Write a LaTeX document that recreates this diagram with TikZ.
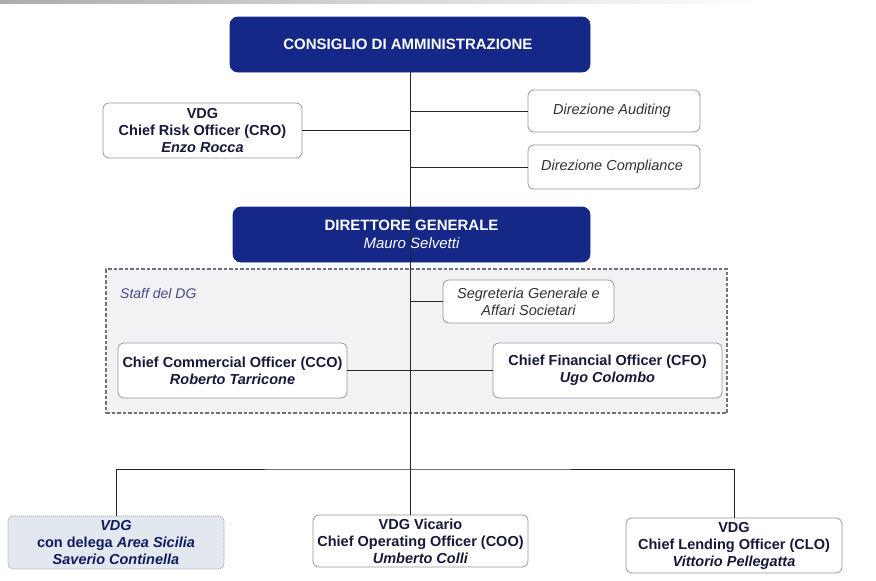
\documentclass[tikz,border=0pt]{standalone}
\usepackage{fontspec}
\setmainfont{Liberation Sans}

\definecolor{bdgNavy}{RGB}{22,40,135}
\definecolor{bdgText}{RGB}{24,24,58}
\definecolor{bdgBorder}{RGB}{150,150,160}
\definecolor{bdgStaff}{RGB}{242,242,245}
\definecolor{bdgDash}{RGB}{110,114,130}
\definecolor{bdgSicily}{RGB}{226,231,240}
\definecolor{bdgLabel}{RGB}{72,72,140}

\begin{document}
\begin{tikzpicture} [
		x = 1pt,
		y = -1pt,
		node/.style = {
			rectangle,
			rounded corners = 6pt,
			draw = bdgBorder,
			fill = white,
			line width = 0.8pt,
			align = center,
			inner sep = 0pt,
			text = bdgText,
			font = \fontsize{14.5}{17}\selectfont\bfseries,
		},
		head/.style = {
			node,
			rounded corners = 8pt,
			draw = bdgNavy,
			fill = bdgNavy,
			text = white,
			font = \fontsize{15}{18}\selectfont\bfseries,
		},
		office/.style = {
			node,
			text = black!80,
			font = \fontsize{14.5}{17}\selectfont\itshape,
		},
		area/.style = {
			node,
			fill = bdgSicily,
			dash pattern = on 1pt off 1pt,
			text = bdgNavy!70!black,
		},
		staff/.style = {
			rectangle,
			draw = bdgDash,
			fill = bdgStaff,
			line width = 2pt,
			dash pattern = on 3.5pt off 2pt,
		},
		staff-caption/.style = {
			anchor = west,
			inner sep = 0pt,
			text = bdgLabel,
			font = \fontsize{14}{16}\selectfont\itshape,
		},
		line/.style = {
			draw,
			line width = 1pt,
			black!85,
		},
	]

	\useasboundingbox (0,0) rectangle (876,581);
	\shade[left color = gray!65, right color = white] (0,0) rectangle (760,3);

	% staff area of the general manager
	\node[staff, minimum width = 621pt, minimum height = 144pt] (staffDG) at (416.5, 341) {};
	\node[staff-caption] (staffCaption) at (120, 293) {Staff del DG};

	% board and its direct reports
	\node[head, minimum width = 360pt, minimum height = 55pt] (board) at (410, 44.5) {
		CONSIGLIO DI AMMINISTRAZIONE
	};
	\node[node, minimum width = 199pt, minimum height = 55pt] (cro) at (202.5, 130.5) {
		VDG\\Chief Risk Officer (CRO)\\\textit{Enzo Rocca}
	};
	\node[office, minimum width = 172pt, minimum height = 42pt] (auditing) at (614, 111) {
		Direzione Auditing
	};
	\node[office, minimum width = 172pt, minimum height = 44pt] (compliance) at (614, 167) {
		Direzione Compliance
	};

	% general manager and staff
	\node[head, minimum width = 357pt, minimum height = 55pt] (dg) at (411.5, 234.5) {
		DIRETTORE GENERALE\\{\mdseries\itshape Mauro Selvetti}
	};
	\node[office, minimum width = 171pt, minimum height = 43pt] (secretariat) at (528.5, 301.5) {
		Segreteria Generale e\\Affari Societari
	};
	\node[node, minimum width = 229pt, minimum height = 55pt] (cco) at (232.5, 370.5) {
		Chief Commercial Officer (CCO)\\\textit{Roberto Tarricone}
	};
	\node[node, minimum width = 229pt, minimum height = 55pt] (cfo) at (607.5, 370.5) {
		Chief Financial Officer (CFO)\\\textit{Ugo Colombo}
	};

	% deputy general managers
	\node[area, minimum width = 216pt, minimum height = 53pt] (sicily) at (116, 542.5) {
		\textit{VDG}\\con delega \textit{Area Sicilia}\\\textit{Saverio Continella}
	};
	\node[node, minimum width = 215pt, minimum height = 52pt] (coo) at (420.5, 541) {
		VDG Vicario\\Chief Operating Officer (COO)\\\textit{Umberto Colli}
	};
	\node[node, minimum width = 216pt, minimum height = 55pt] (clo) at (734, 545.5) {
		VDG\\Chief Lending Officer (CLO)\\\textit{Vittorio Pellegatta}
	};

	\coordinate (fork) at (410, 469);

	\begin{scope} [
		every path/.style = line
		]
		\path (board.south) -- (board.south |- coo.north);

		\path (cro) -- (cro -| board.south);
		\path (auditing) -- (auditing -| board.south);
		\path (compliance) -- (compliance -| board.south);

		\path (secretariat) -- (secretariat -| board.south);
		\path (cco) -- (cfo);

		\path (sicily.north) |- (fork) -| (clo.north);
	\end{scope}
\end{tikzpicture}
\end{document}
